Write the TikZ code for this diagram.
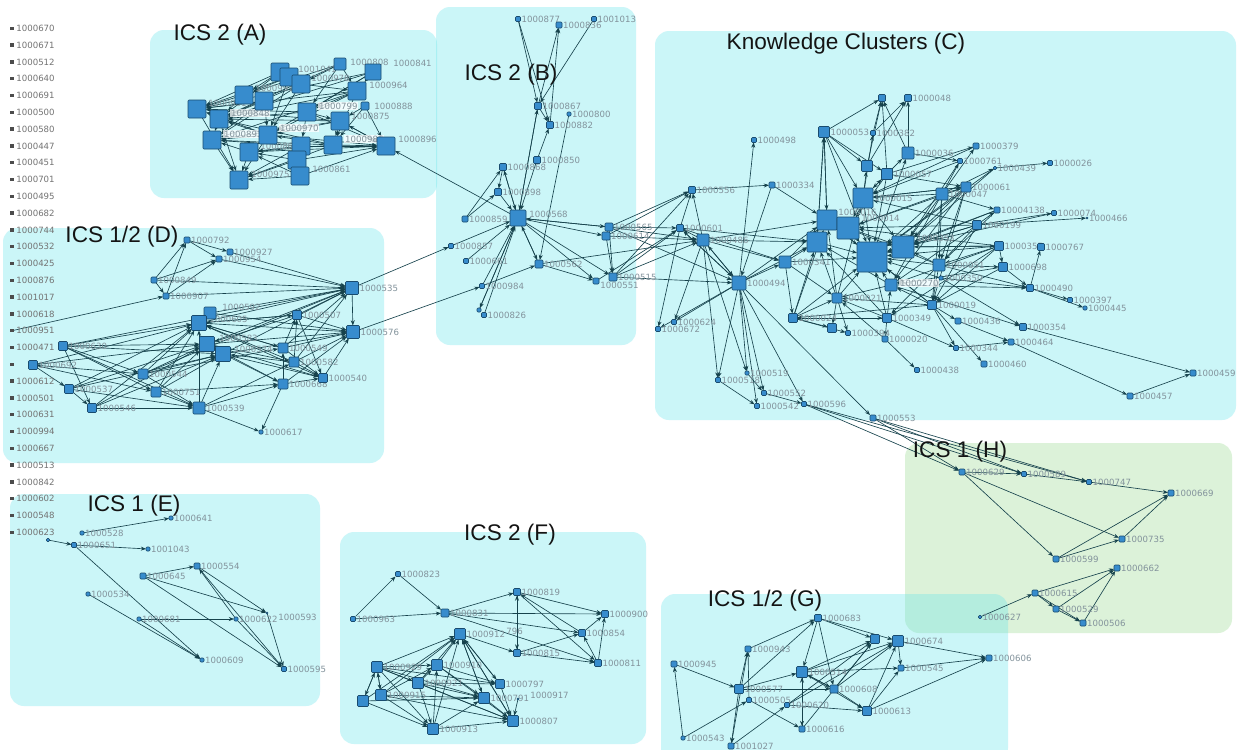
\documentclass[tikz,border=0pt]{standalone}
\usepackage{fontspec}
\newfontfamily\lblfont{DejaVu Sans}
\newfontfamily\ttlfont{Liberation Sans}
\usetikzlibrary{arrows.meta}
\definecolor{ndf}{RGB}{55,140,205}
\definecolor{ndb}{RGB}{25,75,110}
\definecolor{edc}{RGB}{22,66,76}
\definecolor{lblc}{RGB}{130,146,155}
\definecolor{lstc}{RGB}{115,115,115}
\definecolor{cyb}{RGB}{100,228,235}
\definecolor{grb}{RGB}{140,215,130}
\pgfdeclarelayer{bgl}\pgfdeclarelayer{edl}\pgfdeclarelayer{labl}
\pgfsetlayers{bgl,edl,labl,main}
\tikzset{
 nd/.style={draw=ndb, fill=ndf, line width=0.3pt, rounded corners=0.5pt, inner sep=0pt, outer sep=0pt},
 lb/.style={anchor=west, inner sep=0pt, text=lblc, font=\lblfont\fontsize{4.3}{5}\selectfont},
 lbw/.style={fill=white, fill opacity=0.75, text opacity=1, inner sep=0.4pt},
 ed/.style={draw=edc, line width=0.32pt, -{Stealth[length=2.6pt,width=2pt]}},
 ttl/.style={font=\ttlfont\fontsize{11.3}{13}\selectfont, text=black!92, inner sep=0pt},
 cl/.style={fill=cyb, fill opacity=0.33, rounded corners=7pt},
 gl/.style={fill=grb, fill opacity=0.3, rounded corners=7pt},
 lsq/.style={fill=black!70, minimum size=1.7pt, inner sep=0pt},
 lsl/.style={anchor=west, inner sep=0pt, text=lstc, font=\lblfont\fontsize{4.3}{5}\selectfont},
}
\newcommand\gnode[5]{\node[nd,minimum size=#4*0.5pt] (#1) at (#2,#3) {};%
 \begin{pgfonlayer}{labl}\node[lb] (#1l) at ([xshift=0.4pt]#1.east) {#5};\end{pgfonlayer}}
\newcommand\gnodel[8][]{\node[nd,minimum size=#5*0.5pt] (#2) at (#3,#4) {};%
 \begin{pgfonlayer}{labl}\node[lb,#1] (#2l) at (#7,#8) {#6};\end{pgfonlayer}}
\begin{document}
\begin{tikzpicture}[x=0.5pt,y=-0.5pt]
\useasboundingbox (0,0) rectangle (1238,750);
% ---------- backgrounds
\begin{pgfonlayer}{bgl}
\fill[white] (0,0) rectangle (1238,750);
\fill[cl] (150,30) rectangle (437,198);
\fill[cl] (436,7) rectangle (636,345);
\fill[cl] (655,31) rectangle (1236,420);
\fill[cl] (3,228) rectangle (384,463);
\fill[cl] (10,494) rectangle (320,706);
\fill[cl] (340,532) rectangle (646,744);
\fill[gl] (905,443) rectangle (1232,633);
\fill[cl] (661,594) rectangle (1008,762);
\end{pgfonlayer}
% ---------- titles
\node[ttl] (tA) at (220,35) {ICS 2 (A)};
\node[ttl] (tB) at (511,75) {ICS 2 (B)};
\node[ttl] (tC) at (846,44) {Knowledge Clusters (C)};
\node[ttl] (tD) at (122,237) {ICS 1/2 (D)};
\node[ttl] (tE) at (134,506) {ICS 1 (E)};
\node[ttl] (tF) at (510,535) {ICS 2 (F)};
\node[ttl] (tG) at (765,601) {ICS 1/2 (G)};
\node[ttl] (tH) at (960,452) {ICS 1 (H)};
% ---------- left list
\foreach \i/\t in {0/1000670,1/1000671,2/1000512,3/1000640,4/1000691,5/1000500,6/1000580,7/1000447,8/1000451,9/1000701,10/1000495,11/1000682,12/1000744,13/1000532,14/1000425,15/1000876,16/1001017,17/1000618,18/1000951,19/1000471,21/1000612,22/1000501,23/1000631,24/1000994,25/1000667,26/1000513,27/1000842,28/1000602,29/1000548,30/1000623}{
 \node[lsq] (L\t) at (12,{28.3+\i*16.8}) {};
 \node[lsl] (Lt\t) at (16,{28.3+\i*16.8}) {\t};
}
\node[lsq] (Lx) at (12,364.3) {};
% ---------- cluster A
\gnode{nA1}{280}{72}{18}{}
\gnodel{n1041}{289}{77}{18}{1001041}{298}{69}
\gnodel{n978}{301}{84}{18}{1000978}{311}{78}
\gnodel{n808}{340}{64}{12}{1000808}{350}{62}
\gnodel{n841}{373}{72}{16}{1000841}{393}{63}
\gnodel{n964}{357}{91}{18}{1000964}{369}{85}
\gnodel{n888}{365}{106}{8}{1000888}{374}{106}
\gnodel{n991}{244}{95}{18}{1000991}{255}{88}
\gnode{nA5}{264}{101}{18}{}
\gnodel{n901}{197}{109}{18}{1000901}{208}{103}
\gnodel[lbw]{n848}{219}{119}{18}{1000848}{230}{113}
\gnodel[lbw]{n799}{307}{112}{18}{1000799}{318}{106}
\gnodel{n875}{340}{121}{18}{1000875}{351}{116}
\gnodel[lbw]{n893}{212}{140}{18}{1000893}{223}{134}
\gnodel[lbw]{n970}{268}{135}{18}{1000970}{279}{128}
\gnodel{n869}{249}{152}{18}{1000869}{260}{146}
\gnode{n911}{301}{146}{18}{}
\gnodel[lbw]{n986}{333}{145}{18}{1000986}{344}{139}
\gnodel{n896}{386}{146}{18}{1000896}{398}{139}
\gnode{nA18}{297}{160}{18}{}
\gnodel{n975}{239}{180}{18}{1000975}{251}{174}
\gnodel{n861}{300}{176}{18}{1000861}{312}{169}
% ---------- cluster B
\gnode{n877}{518}{19}{5}{1000877}
\gnode{n836}{559}{25}{6}{1000836}
\gnode{n1013}{594}{19}{5}{1001013}
\gnode{n867}{538}{106}{7}{1000867}
\gnode{n800}{569}{114}{4}{1000800}
\gnode{n882}{550}{125}{7}{1000882}
\gnode{n850}{537}{160}{7}{1000850}
\gnode{n868}{503}{167}{7}{1000868}
\gnode{n898}{498}{192}{7}{1000898}
\gnodel{n568}{518}{218}{16}{1000568}{529}{214}
\gnode{n859}{465}{219}{6}{1000859}
\gnode{n857}{451}{246}{5}{1000857}
\gnode{n661}{466}{261}{5}{1000661}
\gnode{n984}{482}{286}{5}{1000984}
\gnode{nx826}{479}{310}{4}{}
\gnode{n826}{484}{315}{5}{1000826}
\gnode{n562}{539}{264}{8}{1000562}
\gnode{n565}{609}{227}{8}{1000565}
\gnode{n614}{606}{236}{8}{1000614}
\gnode{n515}{613}{277}{8}{1000515}
\gnodel{n551}{596}{281}{6}{1000551}{600}{285}
% ---------- cluster D
\gnode{n792}{187}{240}{6}{1000792}
\gnode{n927}{230}{252}{6}{1000927}
\gnode{n954}{219}{259}{6}{1000954}
\gnode{n849}{154}{280}{6}{1000849}
\gnode{n907}{166}{296}{6}{1000907}
\gnode{n535}{352}{288}{13}{1000535}
\gnode{n576}{353}{332}{13}{1000576}
\gnodel{n592}{210}{313}{12}{1000592}{222}{307}
\gnodel{n605}{199}{323}{15}{1000605}{209}{319}
\gnode{n507}{297}{315}{9}{1000507}
\gnodel{n583}{207}{344}{15}{1000583}{219}{338}
\gnodel{n574}{223}{354}{15}{1000574}{234}{349}
\gnode{n549}{283}{348}{10}{1000549}
\gnode{n582}{294}{362}{10}{1000582}
\gnode{n540}{323}{378}{9}{1000540}
\gnode{n630}{63}{346}{9}{1000630}
\gnode{n692}{33}{365}{9}{1000692}
\gnode{n537}{69}{389}{9}{1000537}
\gnode{n544}{143}{374}{10}{1000544}
\gnode{n751}{156}{392}{10}{1000751}
\gnode{n546}{92}{408}{9}{1000546}
\gnode{n539}{199}{408}{12}{1000539}
\gnode{n668}{283}{384}{10}{1000668}
\gnode{n617}{261}{432}{4}{1000617}
% ---------- cluster C
\gnode{nxC1}{882}{98}{7}{}
\gnode{n048}{908}{98}{7}{1000048}
\gnode{n053}{824}{132}{11}{1000053}
\gnode{n382}{873}{133}{5}{1000382}
\gnode{n498}{754}{140}{5}{1000498}
\gnode{n036}{908}{153}{12}{1000036}
\gnode{nxC2}{867}{166}{11}{}
\gnode{n057}{887}{174}{11}{1000057}
\gnode{n379}{976}{146}{6}{1000379}
\gnode{n761}{960}{161}{5}{1000761}
\gnode{n439}{995}{168}{3}{1000439}
\gnode{n026}{1050}{163}{5}{1000026}
\gnode{n061}{966}{187}{10}{1000061}
\gnode{n047}{942}{194}{12}{1000047}
\gnode{n015}{863}{198}{20}{1000015}
\gnode{n556}{692}{190}{7}{1000556}
\gnode{n334}{772}{185}{6}{1000334}
\gnodel{n016}{827}{220}{20}{1000016}{838}{212}
\gnodel{n014}{848}{228}{22}{1000014}{861}{218}
\gnode{nxC3}{817}{242}{20}{}
\gnodel{n353}{903}{247}{22}{1000353}{916}{238}
\gnode{nxC4}{872}{257}{30}{}
\gnode{n355}{999}{246}{9}{1000355}
\gnode{n767}{1041}{247}{7}{1000767}
\gnode{n051}{939}{265}{12}{1000051}
\gnode{n698}{1003}{267}{9}{1000698}
\gnode{n341}{785}{262}{12}{1000341}
\gnode{n350}{941}{278}{4}{1000350}
\gnodel[lbw]{n270}{891}{285}{12}{1000270}{899}{283}
\gnode{n4138}{997}{210}{6}{10004138}
\gnode{n074}{1054}{213}{5}{1000074}
\gnode{n466}{1087}{218}{2}{1000466}
\gnode{n199}{977}{225}{9}{1000199}
\gnode{n601}{680}{228}{7}{1000601}
\gnode{n486}{703}{240}{12}{1000486}
\gnode{n494}{739}{283}{14}{1000494}
\gnode{n490}{1030}{288}{7}{1000490}
\gnode{n397}{1070}{300}{5}{1000397}
\gnode{n445}{1085}{308}{4}{1000445}
\gnode{n021}{837}{298}{10}{1000021}
\gnode{n019}{932}{305}{9}{1000019}
\gnode{n024}{793}{318}{9}{1000024}
\gnode{n349}{887}{318}{9}{1000349}
\gnode{n436}{958}{321}{6}{1000436}
\gnode{n624}{674}{322}{5}{1000624}
\gnode{n672}{658}{329}{5}{1000672}
\gnode{n018}{832}{328}{9}{}
\gnode{n394}{848}{333}{5}{1000394}
\gnode{n020}{885}{339}{6}{1000020}
\gnode{n354}{1023}{327}{7}{1000354}
\gnode{n464}{1011}{342}{6}{1000464}
\gnode{n344}{956}{348}{5}{1000344}
\gnode{n460}{984}{364}{6}{1000460}
\gnode{n438}{917}{370}{5}{1000438}
\gnode{n459}{1193}{373}{6}{1000459}
\gnode{n457}{1130}{396}{6}{1000457}
\gnode{n518}{718}{380}{5}{1000518}
\gnode{n519}{747}{373}{4}{1000519}
\gnode{n552}{764}{393}{5}{1000552}
\gnode{n542}{757}{406}{5}{1000542}
\gnode{n596}{804}{404}{5}{1000596}
\gnode{n553}{873}{418}{6}{1000553}
% ---------- cluster E
\gnode{n641}{171}{518}{4}{1000641}
\gnode{n528}{82}{533}{4}{1000528}
\gnode{n651}{74}{545}{5}{1000651}
\gnode{nxE1}{48}{540}{3}{}
\gnode{n1043}{148}{549}{4}{1001043}
\gnode{n554}{197}{566}{6}{1000554}
\gnode{n645}{143}{576}{6}{1000645}
\gnode{n534}{88}{594}{4}{1000534}
\gnode{n681}{139}{619}{4}{1000681}
\gnode{n622}{236}{619}{4}{1000622}
\gnodel{n593}{267}{613}{2}{1000593}{278}{617}
\gnode{n609}{202}{660}{4}{1000609}
\gnode{n595}{284}{669}{5}{1000595}
% ---------- cluster F
\gnode{n823}{398}{574}{5}{1000823}
\gnode{n963}{353}{619}{5}{1000963}
\gnode{n831}{445}{613}{8}{1000831}
\gnode{n819}{517}{592}{7}{1000819}
\gnode{n900}{605}{614}{7}{1000900}
\gnode{n854}{582}{633}{7}{1000854}
\gnode{n811}{598}{663}{7}{1000811}
\gnode{n815}{517}{653}{7}{1000815}
\gnode{n912}{460}{634}{11}{1000912}
\begin{pgfonlayer}{labl}\node[lb] (f796) at (506,631) {796};\end{pgfonlayer}
\gnode{n910}{437}{665}{11}{1000910}
\gnode{n929}{377}{667}{11}{1000929}
\gnode{n921}{418}{683}{11}{1000921}
\gnode{n797}{500}{684}{9}{1000797}
\gnode{n915}{381}{695}{11}{1000915}
\gnode{nxF1}{363}{701}{11}{}
\gnode{n791}{484}{698}{11}{1000791}
\gnodel{n917}{518}{699}{2}{1000917}{530}{695}
\gnode{n807}{513}{721}{11}{1000807}
\gnode{n913}{433}{729}{11}{1000913}
% ---------- cluster G
\gnode{n683}{818}{618}{7}{1000683}
\gnode{nxG1}{875}{639}{9}{}
\gnode{n674}{898}{641}{11}{1000674}
\gnode{n943}{748}{649}{6}{1000943}
\gnode{n945}{674}{664}{6}{1000945}
\gnode{n514}{802}{672}{11}{1000514}
\gnode{n545}{901}{668}{6}{1000545}
\gnode{n606}{989}{658}{6}{1000606}
\gnode{n577}{739}{689}{9}{1000577}
\gnode{n608}{834}{689}{8}{1000608}
\gnode{n505}{749}{700}{5}{1000505}
\gnode{n620}{787}{705}{5}{1000620}
\gnode{n613}{867}{711}{9}{1000613}
\gnode{n616}{802}{729}{6}{1000616}
\gnode{n543}{683}{738}{4}{1000543}
\gnode{n1027}{731}{746}{6}{1001027}
\gnode{n627}{980}{617}{3}{1000627}
% ---------- cluster H
\gnode{n629}{962}{472}{6}{1000629}
\gnode{n589}{1024}{474}{5}{1000589}
\gnode{n747}{1089}{482}{5}{1000747}
\gnode{n669}{1171}{493}{6}{1000669}
\gnode{n735}{1122}{539}{6}{1000735}
\gnode{n599}{1056}{559}{6}{1000599}
\gnode{n662}{1117}{568}{6}{1000662}
\gnode{n615}{1035}{593}{6}{1000615}
\gnode{n529}{1056}{609}{6}{1000529}
\gnode{n506}{1083}{623}{6}{1000506}
% ---------- edges
\begin{pgfonlayer}{edl}
% A
\foreach \a/\b in {n875/n896,n888/n896,n986/n896,n861/n896,nA18/n896,n970/n896,n799/n896,n911/n896,n869/n896,n896/n875,
 n799/n901,n799/n848,n970/n901,n970/n893,n970/n848,n986/n848,n986/n893,n875/n848,n875/n970,n964/n799,n964/n970,n964/n848,
 n841/n970,n841/n848,n808/n991,n808/n848,n1041/n901,n978/n848,n978/n893,nA1/n901,nA1/n991,nA5/n901,nA5/n893,n991/n901,
 n991/n848,n848/n893,n893/n975,n848/n975,n901/n975,n869/n975,n869/n893,n861/n975,n911/n975,nA18/n975,nA18/n869,n861/n869,
 n986/n970,n888/n875,n841/n964,n808/n964,n978/n964,n799/n875,nA5/n970,n1041/n970,n978/n970,n911/n893,n986/n869,n875/n893,
 n964/n893,n841/n901,n1041/n991,nA1/n848,n808/n799,n841/n799,n964/n986,n875/n986,n888/n986,n861/n911,n799/n911,n970/n869,
 n875/n901,n964/n901,n808/n978,nA5/n848,n986/n975,n911/n869,n970/n975}
 \draw[ed] (\a) -- (\b);
% B
\foreach \a/\b in {n877/n882,n877/n867,n867/n836,n882/n836,n1013/n867,n867/n882,n850/n882,n867/n568,n568/n867,n800/n562,
 n868/n568,n898/n568,n568/n868,n859/n868,n859/n898,n868/n898,n857/n568,n661/n568,n984/n568,n826/n568,nx826/n568,n568/nx826,
 n568/n562,n562/n568,n568/n565,n565/n568,n568/n614,n568/n515,n568/n551,n562/n551,n984/n562,n565/n515,n614/n515,n565/n614,
 n535/n857,n576/n984,n568/n896,n850/n568,
 n565/n601,n565/n556,n614/n556,n515/n556,n515/n601,n551/n601,n565/n486,n614/n486,n515/n494,n562/n486,n515/n486,n565/n494}
 \draw[ed] (\a) -- (\b);
% D
\foreach \a/\b in {n792/n954,n792/n927,n849/n792,n907/n792,n849/n954,n907/n954,n849/n907,n954/n535,n849/n535,n907/n535,n927/n535,
 n592/n535,n605/n535,n507/n535,n583/n535,n574/n535,n549/n535,n582/n535,n630/n535,n544/n535,n535/n576,
 n605/n576,n583/n576,n507/n576,n549/n576,n582/n576,n540/n576,n574/n576,n592/n576,n668/n576,
 n630/n605,n692/n605,n537/n605,n544/n605,n751/n605,n546/n605,n539/n605,n582/n605,n549/n605,n507/n605,
 n630/n583,n537/n583,n544/n583,n751/n583,n546/n583,n507/n583,
 n539/n574,n544/n574,n751/n574,n630/n574,n582/n574,
 n605/n540,n583/n540,n574/n540,n549/n540,n582/n540,n668/n540,n507/n540,
 n546/n539,n537/n539,n544/n539,n751/n539,n630/n539,n539/n617,n668/n617,
 n692/n537,n537/n546,n630/n546,n630/n751,n692/n751,n630/n544,n692/n544,
 n549/n507,n582/n507,n668/n549,n574/n668,n583/n668,n605/n549,n539/n668,n751/n668,n544/n549,n539/n582,
 L1000951/n907,n605/n507,n583/n582,n692/n583,n537/n574,n546/n574}
 \draw[ed] (\a) -- (\b);
% C
\foreach \a/\b in {n601/n556,n486/n556,n601/n494,n494/n601,n486/n494,n494/n486,n334/n494,n494/n498,n486/n601,
 n494/n624,n494/n672,n486/n624,n601/n672,
 n494/n518,n494/n519,n494/n542,n494/n552,n494/n596,n494/n553,n486/n519,n486/n518,n518/n542,n519/n552,n552/n596,
 n494/n341,n341/n024,n494/n016,n334/n016,n601/nxC3,n486/nxC3,n494/nxC3,n486/n016,n486/n341,n601/n341,
 n053/nxC2,n053/n057,n053/n015,n053/n016,n053/nxC3,n053/nxC4,n053/nxC1,n016/n053,nxC3/n053,n556/n334,
 nxC2/nxC1,n036/n048,n057/nxC1,n382/nxC1,n382/n048,nxC2/n048,n036/nxC1,
 n015/nxC2,n015/n057,nxC4/n036,n015/n036,n015/n382,
 n047/n379,n057/n379,n036/n761,n047/n761,n047/n439,n439/n026,n047/n4138,n199/n4138,n199/n074,n199/n466,n047/n061,n015/n061,n057/n061,
 n353/n355,n051/n698,n051/n490,n350/n490,n270/n490,n698/n490,n490/n767,n355/n698,n490/n397,n490/n445,n350/n354,n270/n354,
 n019/n436,n019/n344,n349/n344,n436/n464,n354/n459,n464/n457,n457/n459,n344/n464,n019/n460,n020/n438,n349/n020,n024/n394,
 n021/n018,n021/n394,n024/n018,
 n016/nxC4,n014/nxC4,nxC3/nxC4,n015/nxC4,n353/nxC4,n051/nxC4,n270/nxC4,n021/nxC4,n349/nxC4,n019/nxC4,n341/nxC4,n024/nxC4,
 n047/nxC4,n061/nxC4,n199/nxC4,n355/nxC4,n057/nxC4,
 n015/n014,n016/n014,n014/n353,n015/n353,n047/n353,n061/n353,n199/n353,n355/n353,n051/n353,
 n047/n015,n061/n015,n047/n014,n199/n014,n199/n015,n061/n051,n047/n051,n199/n051,n355/n051,
 n021/n016,n021/nxC3,n024/nxC3,n024/n021,n349/n021,n019/n021,n349/n270,n019/n270,n270/n021,
 n341/n016,n341/nxC3,n341/n021,n024/n016,n021/n015,
 n355/n270,n355/n019,n199/n270,n199/n019,n061/n019,n061/n270,n047/n270,n047/n019,
 n350/nxC4,n051/n019,n051/n349,n698/n019,n698/n270,n355/n349,n4138/n353,n4138/nxC4,n4138/n051,
 n074/n353,n379/n015,n761/n015,n761/n353,n439/n353,n439/nxC4,n019/n024,n349/n024,n020/n021,
 n061/n014,n036/n015,n057/n014,n355/n014,n051/n016,n270/nxC3,n019/n016,n349/nxC3,n024/n349}
 \draw[ed] (\a) -- (\b);
% C -> H and H
\foreach \a/\b in {n596/n629,n553/n629,n553/n589,n596/n589,n553/n747,n596/n747,
 n629/n589,n589/n747,n747/n669,n629/n735,n629/n599,n599/n669,n599/n735,n735/n669,n615/n662,n529/n662,n615/n529,n529/n506,
 n615/n506,n627/n615,n506/n662}
 \draw[ed] (\a) -- (\b);
% E
\foreach \a/\b in {n528/n641,n651/n1043,n645/n554,n651/n609,n534/n609,n681/n609,n681/n622,n645/n593,n645/n595,n554/n593,
 n554/n595,n622/n554,n622/n595,n593/n595,nxE1/n651}
 \draw[ed] (\a) -- (\b);
% F
\foreach \a/\b in {n963/n823,n823/n831,n963/n831,n831/n819,n831/n900,n831/n854,n912/n815,n819/n900,n819/n811,n819/n815,
 n815/n819,n815/n811,n854/n900,n811/n854,n811/n900,n854/n819,n815/n854,n831/n811,
 n929/n912,n910/n912,n921/n912,n915/n912,nxF1/n912,n913/n912,n791/n912,n797/n912,n807/n912,n929/n910,n915/n910,n921/n910,
 n913/n910,n929/n921,n929/n915,n915/n929,nxF1/n929,n929/nxF1,n921/n913,n915/n913,nxF1/n913,n929/n913,n913/n807,n921/n807,
 n910/n807,n929/n807,n929/n791,n921/n791,n915/n791,n910/n791,n912/n791,n912/n797,n910/n797,n921/n797,n913/n791,n791/n807,
 n797/n807,n917/n807,n912/n807,n929/n797,nxF1/n791,n915/n807}
 \draw[ed] (\a) -- (\b);
% G
\foreach \a/\b in {n943/n683,n577/n943,n505/n943,n577/n683,n945/n577,n543/n945,n577/n1027,n943/n1027,n543/n505,n1027/n620,
 n505/n616,n683/n514,n683/n608,n683/nxG1,n683/n674,n577/n514,n577/n608,n514/nxG1,n514/n674,n514/n545,n514/n608,n514/n616,
 n616/n514,n620/n613,n608/n613,n620/n674,n608/n674,n613/n674,n613/n545,n613/n606,n674/n606,n545/n606,n674/n545,n608/nxG1,
 n616/nxG1,n620/nxG1,n608/n514,n514/n613}
 \draw[ed] (\a) -- (\b);
\end{pgfonlayer}
\end{tikzpicture}
\end{document}
